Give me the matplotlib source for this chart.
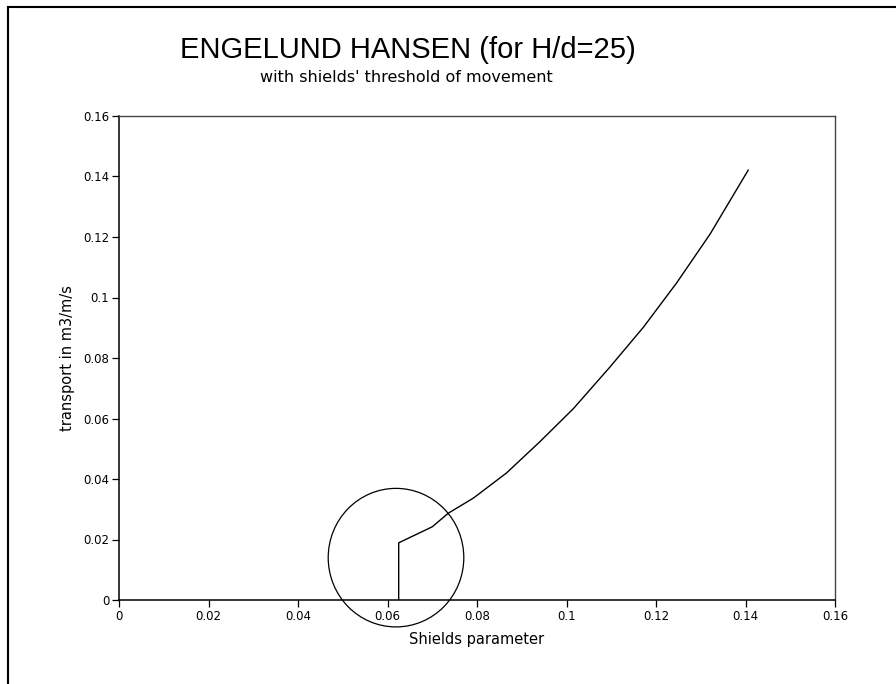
import matplotlib
matplotlib.use("Agg")
import matplotlib.pyplot as plt
from matplotlib.patches import Ellipse
from matplotlib.lines import Line2D

plt.rcParams['font.family'] = ['DejaVu Sans']

# Engelund-Hansen transport vs Shields parameter, with the threshold jump
shields = [0.0625, 0.0625, 0.0700, 0.0736, 0.0792, 0.0866, 0.0941, 0.1015,
           0.1097, 0.1172, 0.1246, 0.1321, 0.1406]
transport = [0.0, 0.0189, 0.0242, 0.0287, 0.0337, 0.0420, 0.0524, 0.0632,
             0.0770, 0.0902, 0.1048, 0.1210, 0.1421]

# highlighted region around the threshold of movement
circle_center = (0.0619, 0.0140)
circle_width = 0.0303
circle_height = 0.0458

xticks = [0, 0.02, 0.04, 0.06, 0.08, 0.1, 0.12, 0.14, 0.16]
xticklabels = ['0', '0.02', '0.04', '0.06', '0.08', '0.1', '0.12', '0.14', '0.16']
yticks = [0, 0.02, 0.04, 0.06, 0.08, 0.1, 0.12, 0.14, 0.16]
yticklabels = ['0', '0.02', '0.04', '0.06', '0.08', '0.1', '0.12', '0.14', '0.16']

fig = plt.figure(figsize=(8.96, 6.84), dpi=100)
ax = fig.add_axes([119 / 896, 1 - 600 / 684, (835 - 119) / 896, (600 - 116) / 684])

ax.plot(shields, transport, color='black', linewidth=1.0)
ax.add_patch(Ellipse(circle_center, circle_width, circle_height,
                     fill=False, edgecolor='black', linewidth=0.9, clip_on=False))

ax.set_xlim(0, 0.16)
ax.set_ylim(0, 0.16)
ax.set_xticks(xticks)
ax.set_xticklabels(xticklabels)
ax.set_yticks(yticks)
ax.set_yticklabels(yticklabels)
ax.tick_params(direction='out', length=5, width=0.9, labelsize=8.5, pad=2, color='black')

for side in ('left', 'bottom'):
    ax.spines[side].set_linewidth(1.1)
    ax.spines[side].set_color('black')
for side in ('top', 'right'):
    ax.spines[side].set_linewidth(1.0)
    ax.spines[side].set_color('#444444')

ax.set_xlabel('Shields parameter', fontsize=10.5, labelpad=7)
ax.set_ylabel('transport in m3/m/s', fontsize=10.5, labelpad=6)

fig.text(0.455, 0.927, 'ENGELUND HANSEN (for H/d=25)', fontsize=21,
         ha='center', va='center', family=['Liberation Sans', 'DejaVu Sans'])
fig.text(0.453, 0.887, "with shields' threshold of movement", fontsize=11.5,
         ha='center', va='center')

# page frame: top and left edges
fig.add_artist(Line2D([8 / 896, 1.0], [1 - 7 / 684, 1 - 7 / 684],
                      transform=fig.transFigure, color='black', linewidth=1.5))
fig.add_artist(Line2D([8 / 896, 8 / 896], [0.0, 1 - 7 / 684],
                      transform=fig.transFigure, color='black', linewidth=1.5))

fig.savefig('out.png', dpi=100, facecolor='white')
